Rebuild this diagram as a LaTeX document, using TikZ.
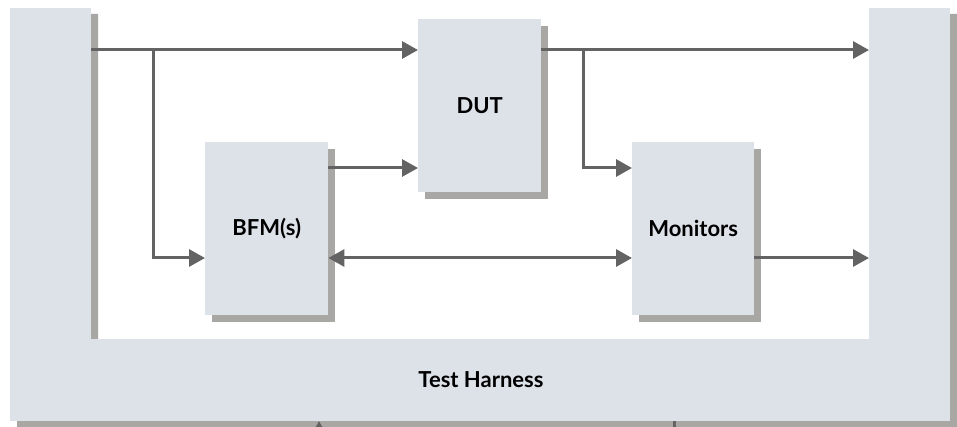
\documentclass[tikz,border=0pt]{standalone}
\usepackage{fontspec}
\setmainfont{Lato}
\usetikzlibrary{arrows.meta,shadows}
\definecolor{boxfill}{HTML}{DDE2E9}
\definecolor{shadegray}{HTML}{A9A7A4}
\definecolor{wire}{HTML}{636363}
\tikzset{
  block/.style={fill=boxfill, draw=none, anchor=north west, inner sep=0pt,
    font=\bfseries\fontsize{22}{26}\selectfont,
    drop shadow={shadow xshift=7pt, shadow yshift=-7pt, fill=shadegray, opacity=1}},
  frame/.style={fill=boxfill, draw=none, anchor=north west, inner sep=0pt},
  wirearrow/.style={draw=wire, line width=3pt, -{Triangle[length=16pt,width=17pt]}},
  wireplain/.style={draw=wire, line width=3pt},
}
\begin{document}
\begin{tikzpicture}[x=1pt, y=-1pt]
  \useasboundingbox (0,0) rectangle (957,427);
  \fill[white] (0,0) rectangle (957,427);

  \begin{scope}
    \clip (0,0) rectangle (957,427);
    % shadow of the harness frame
    \fill[shadegray] (17,14) -- (98,14) -- (98,346) -- (876,346) -- (876,14)
      -- (957,14) -- (957,428) -- (17,428) -- cycle;

    % harness frame: two columns and a base bar
    \node[frame, minimum width=81pt, minimum height=413pt] (lcol) at (10,8) {};
    \node[frame, minimum width=81pt, minimum height=413pt] (rcol) at (869,8) {};
    \node[frame, minimum width=940pt, minimum height=82pt] (bar) at (10,339)
      {};
    \node[font=\bfseries\fontsize{22}{26}\selectfont] (harness) at (481,380) {Test Harness};

    % connectors leaving the frame at the bottom
    \coordinate (stubA) at (319,421);
    \coordinate (stubAend) at (319,445);
    \coordinate (stubB) at (674,421);
    \coordinate (stubBend) at (674,440);
    \draw[wirearrow] (stubAend) -- (stubA);
    \draw[wireplain, line cap=butt] (stubB) -- (stubBend);
  \end{scope}

  % functional blocks
  \node[block, minimum width=123pt, minimum height=173pt] (dut) at (418,19) {DUT};
  \node[block, minimum width=123pt, minimum height=173pt] (bfm) at (205,142) {BFM(s)};
  \node[block, minimum width=122pt, minimum height=173pt] (mon) at (632,142) {Monitors};

  % ports on the harness columns
  \coordinate (lout) at (91,50);
  \coordinate (rinA) at (869,50);
  \coordinate (rinB) at (869,258);
  \coordinate (splitL) at (153,50);
  \coordinate (splitR) at (583,50);

  % stimulus paths
  \draw[wirearrow] (lout) -- (dut.west |- lout);
  \draw[wirearrow] (splitL) |- (bfm.west |- 0,258);
  \draw[wirearrow] (bfm.east |- 0,168) -- (dut.west |- 0,168);

  % response paths
  \draw[wirearrow] (dut.east |- 0,50) -- (rinA);
  \draw[wirearrow] (splitR) |- (mon.west |- 0,168);
  \draw[draw=wire, line width=3pt, {Triangle[length=16pt,width=17pt]}-{Triangle[length=16pt,width=17pt]}]
    (bfm.east |- 0,258) -- (mon.west |- 0,258);
  \draw[wirearrow] (mon.east |- 0,258) -- (rinB);
\end{tikzpicture}
\end{document}
